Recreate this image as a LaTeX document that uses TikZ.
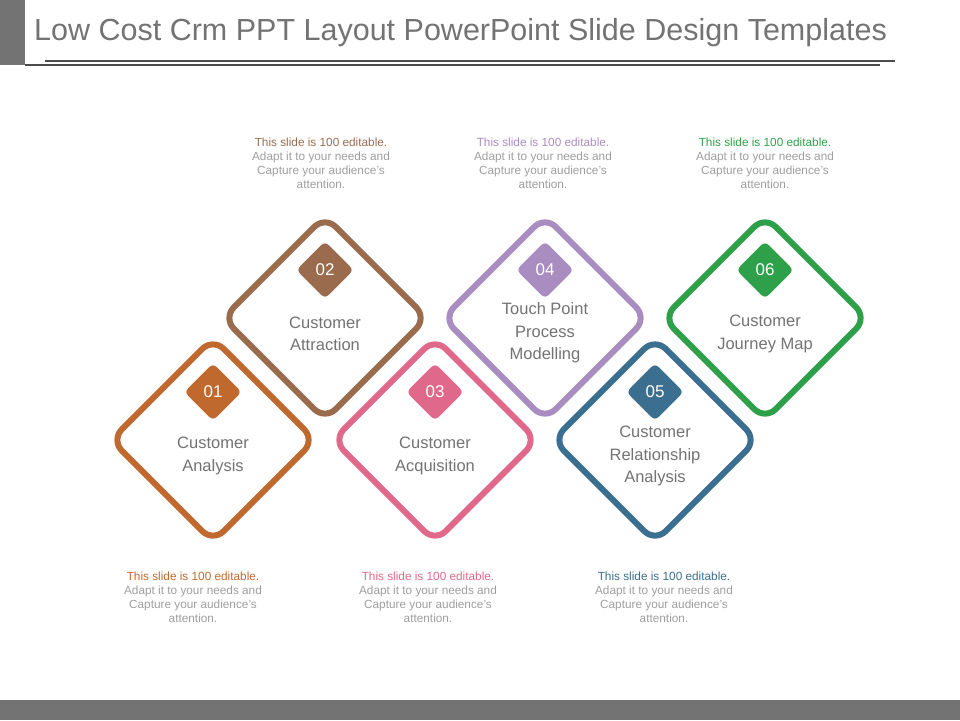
\documentclass[tikz,border=0pt]{standalone}
\usepackage{fontspec}
\setmainfont{Liberation Sans}
\begin{document}
\begin{tikzpicture}[x=1pt,y=-1pt,
  dia/.style={draw=#1,line width=6pt,rounded corners=15pt,rotate=45,minimum size=144pt,inner sep=0pt,fill=white},
  badge/.style={fill=#1,draw=white,line width=1.2pt,rounded corners=6pt,rotate=45,minimum size=42pt,inner sep=0pt},
  num/.style={text=white,font=\fontsize{17}{18}\selectfont},
  lab/.style={text=black!55,font=\fontsize{16.5}{22.5}\selectfont,align=center},
  desc/.style={text=black!38,font=\fontsize{11.8}{14}\selectfont,align=center}]
\definecolor{c1}{HTML}{C0692F}\definecolor{c2}{HTML}{9A6B4C}
\definecolor{c3}{HTML}{E0688A}\definecolor{c4}{HTML}{A98CC0}
\definecolor{c5}{HTML}{3B6E8F}\definecolor{c6}{HTML}{2FA04A}
\useasboundingbox (0,0) rectangle (960,720);
\fill[black!55] (0,0) rectangle (25,65);
\fill[black!55] (0,700) rectangle (960,720);
\draw[black!70,line width=1.3pt] (45,61) -- (895,61);
\draw[black!70,line width=1.3pt] (25,65) -- (880,65);
\node[anchor=west,text=black!55,font=\fontsize{30.5}{32}\selectfont,inner sep=0pt] (title) at (34,33) {Low Cost Crm PPT Layout PowerPoint Slide Design Templates};
\foreach \n/\x/\y/\c/\t in {02/325/318/c2/{Customer\\Attraction},04/545/318/c4/{Touch Point\\Process\\Modelling},06/765/318/c6/{Customer\\Journey Map},01/213/440/c1/{Customer\\Analysis},03/435/440/c3/{Customer\\Acquisition},05/655/440/c5/{Customer\\Relationship\\Analysis}}{
  \node[dia=\c] (d\n) at (\x,\y) {};
  \node[badge=\c] (b\n) at (\x,\y-48) {};
  \node[num] (n\n) at (b\n) {\n};
  \node[lab] (l\n) at (\x,\y+\ifnum\n=04 15\else\ifnum\n=05 16\else 16\fi\fi) {\t};
}
\foreach \x/\y/\c/\k in {321/163/c2/a,543/163/c4/b,765/163/c6/c,193/597/c1/d,428/597/c3/e,664/597/c5/f}{
  \node[desc] (t\k) at (\x,\y) {\textcolor{\c}{This slide is 100 editable.}\\Adapt it to your needs and\\Capture your audience's\\attention.};
}
\end{tikzpicture}
\end{document}
